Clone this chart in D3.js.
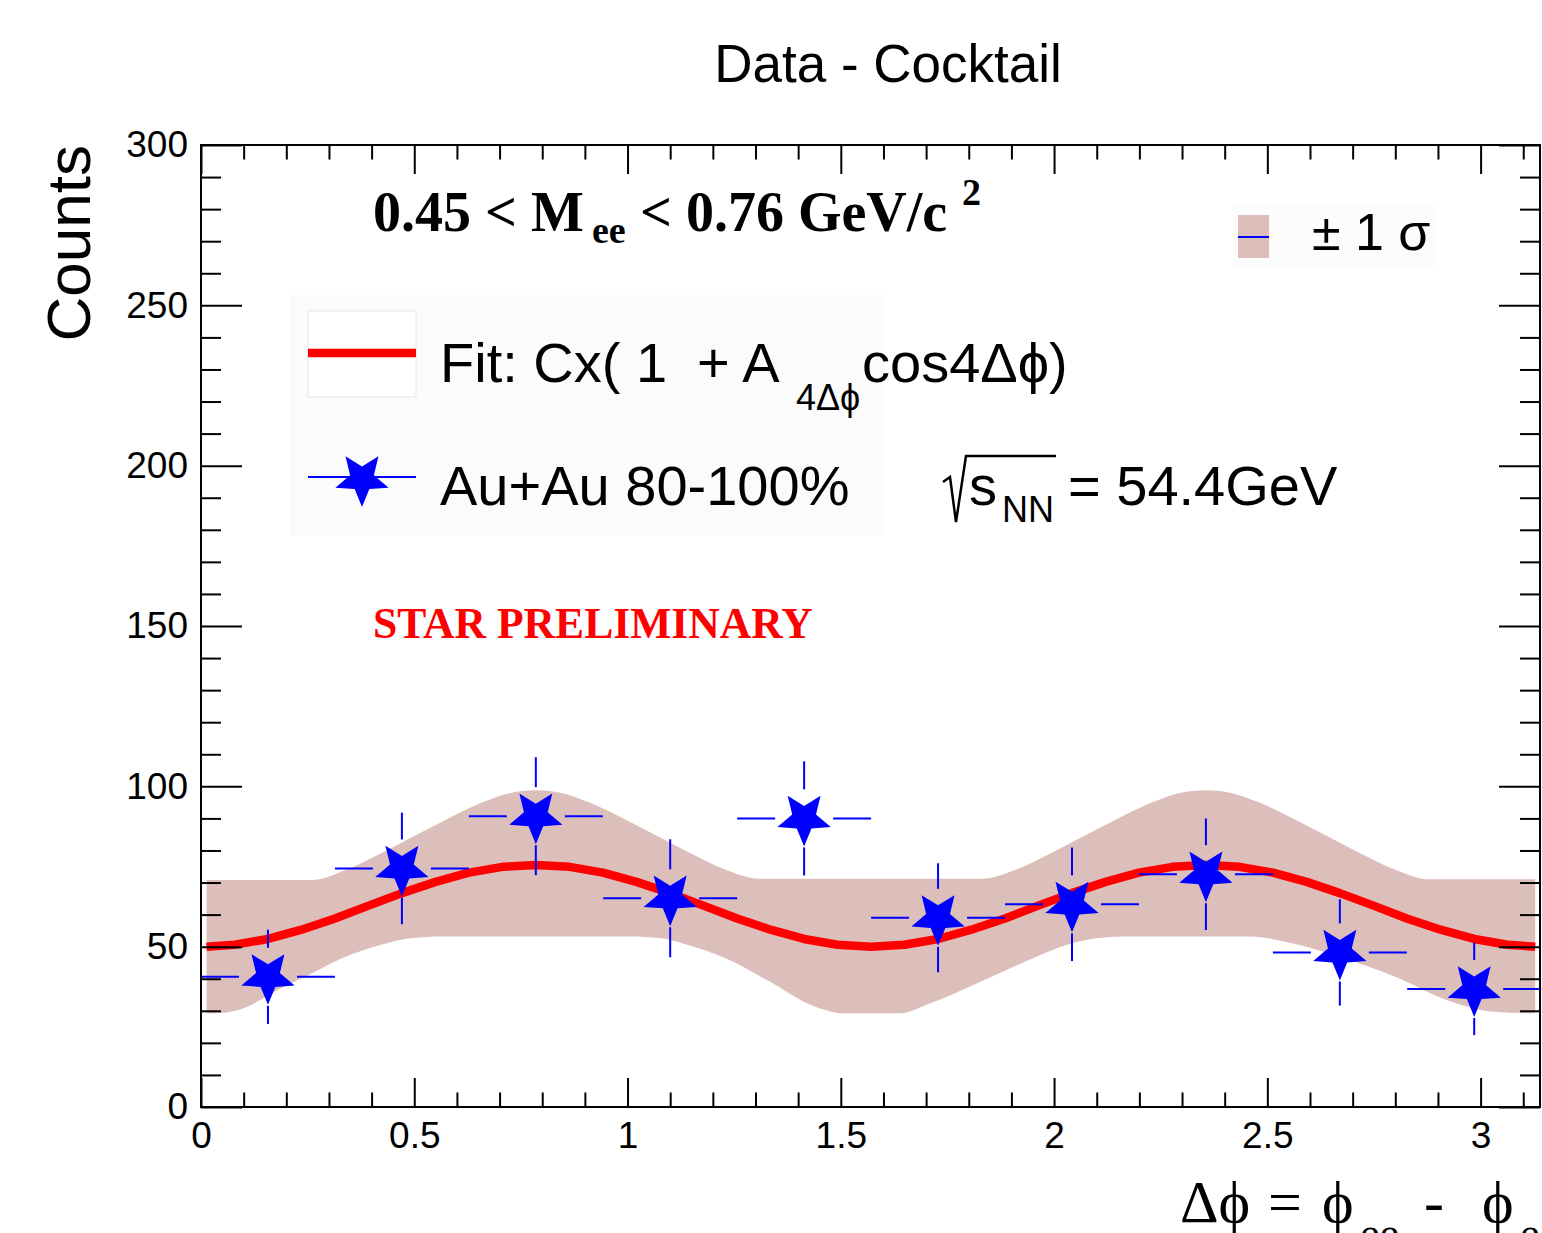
<!DOCTYPE html>
<html>
<head>
<meta charset="utf-8">
<script src="https://cdn.jsdelivr.net/npm/d3@7"></script>
<style>
  html, body { margin: 0; padding: 0; background: #ffffff; }
  svg { display: block; }
</style>
</head>
<body>
<svg id="chart" width="1542" height="1233"></svg>
<script>
// ---------------- data ----------------
const binCenters = [0.157, 0.471, 0.785, 1.100, 1.414, 1.728, 2.042, 2.356, 2.670, 2.985];
const binHalfWidth = 0.157;
const counts = [40.6, 74.4, 90.7, 65.1, 90.0, 59.0, 63.2, 72.6, 48.2, 36.8];
const countErrors = [14.7, 17.4, 18.4, 18.4, 17.8, 17.0, 17.7, 17.4, 16.6, 14.4];

const fitPhi = [0.013, 0.079, 0.157, 0.236, 0.314, 0.393, 0.471, 0.550, 0.628, 0.707,
  0.785, 0.864, 0.942, 1.021, 1.100, 1.178, 1.257, 1.335, 1.414, 1.492,
  1.571, 1.649, 1.728, 1.806, 1.885, 1.963, 2.042, 2.121, 2.199, 2.278,
  2.356, 2.435, 2.513, 2.592, 2.670, 2.749, 2.827, 2.906, 2.985, 3.063, 3.128];
const fitCounts = [50.0, 50.6, 52.4, 55.3, 58.8, 62.8, 66.7, 70.2, 73.1, 74.9,
  75.5, 74.9, 73.1, 70.2, 66.7, 62.8, 58.8, 55.3, 52.4, 50.6,
  50.0, 50.6, 52.4, 55.3, 58.8, 62.8, 66.7, 70.2, 73.1, 74.9,
  75.5, 74.9, 73.1, 70.2, 66.7, 62.8, 58.8, 55.3, 52.4, 50.6, 50.0];

// +-1 sigma band edges
const bandUpperPhi = [0.013, 0.26, 0.34, 0.42, 0.50, 0.58, 0.66, 0.72, 0.785, 0.85, 0.91, 0.99, 1.07, 1.15, 1.23, 1.31,
  1.83, 1.91, 1.99, 2.07, 2.15, 2.23, 2.29, 2.356, 2.42, 2.48, 2.56, 2.64, 2.72, 2.80, 2.88, 3.128];
const bandUpper = [70.8, 70.8, 74.0, 79.0, 84.5, 90.0, 95.0, 97.8, 98.8, 97.8, 95.0, 90.0, 84.5, 79.0, 74.0, 71.2,
  71.2, 74.0, 79.0, 84.5, 90.0, 95.0, 97.8, 98.8, 97.8, 95.0, 90.0, 84.5, 79.0, 74.0, 71.0, 71.0];
const bandLowerPhi = [0.013, 0.06, 0.10, 0.18, 0.26, 0.34, 0.42, 0.49, 0.57, 1.00, 1.08, 1.13, 1.24, 1.34, 1.43, 1.51,
  1.64, 1.70, 1.82, 1.94, 2.04, 2.10, 2.16, 2.46, 2.56, 2.68, 2.80, 2.92, 3.03, 3.128];
const bandLower = [29.2, 29.5, 30.8, 36.5, 41.7, 46.9, 50.5, 52.6, 53.2, 53.2, 52.6, 51.0, 45.8, 38.6, 31.8, 29.2,
  29.2, 31.8, 38.6, 45.8, 51.0, 52.6, 53.2, 53.2, 51.0, 46.4, 40.6, 33.4, 29.7, 29.2];

// axes
const xDomain = [0, Math.PI];
const yDomain = [0, 300];
const xMajorTicks = [0, 0.5, 1, 1.5, 2, 2.5, 3];
const xTickLabels = ["0", "0.5", "1", "1.5", "2", "2.5", "3"];
const xMinorTicks = [0.1,0.2,0.3,0.4,0.6,0.7,0.8,0.9,1.1,1.2,1.3,1.4,1.6,1.7,1.8,1.9,2.1,2.2,2.3,2.4,2.6,2.7,2.8,2.9,3.1];
const yMajorTicks = [0, 50, 100, 150, 200, 250, 300];
const yTickLabels = ["0", "50", "100", "150", "200", "250", "300"];
const yMinorTicks = [10,20,30,40,60,70,80,90,110,120,130,140,160,170,180,190,210,220,230,240,260,270,280,290];

// ---------------- layout ----------------
const frame = { left: 201, right: 1541, top: 145, bottom: 1107 };
const COL_BAND = "#dcbfba", COL_FIT = "#ff0000", COL_DATA = "#0000ff";
const SANS = "'Liberation Sans', Arial, Helvetica, sans-serif";
const SERIF = "'Liberation Serif', 'Times New Roman', Times, serif";

const svg = d3.select("#chart");
const x = d3.scaleLinear().domain(xDomain).range([frame.left, frame.right]);
const y = d3.scaleLinear().domain(yDomain).range([frame.bottom, frame.top]);

// band
const lineMono = d3.line().x(d => x(d[0])).y(d => y(d[1])).curve(d3.curveMonotoneX);
const upperPts = bandUpperPhi.map((p, i) => [p, bandUpper[i]]);
const lowerPts = bandLowerPhi.map((p, i) => [p, bandLower[i]]).reverse();
const up = lineMono(upperPts);
const lo = lineMono(lowerPts);
svg.append("path")
  .attr("d", up + "L" + lo.slice(1) + "Z")
  .attr("fill", COL_BAND).attr("stroke", "none");

// fit line
svg.append("path")
  .datum(fitPhi.map((p, i) => [p, fitCounts[i]]))
  .attr("d", d3.line().x(d => x(d[0])).y(d => y(d[1])))
  .attr("fill", "none").attr("stroke", COL_FIT).attr("stroke-width", 8.5)
  .attr("stroke-linejoin", "round");

// data points with error bars
function starPath(R, r) {
  const pts = [];
  for (let i = 0; i < 10; i++) {
    const a = Math.PI / 2 + i * Math.PI / 5;
    const rad = i % 2 === 0 ? R : r;
    pts.push([(rad * Math.cos(a)).toFixed(2), (rad * Math.sin(a)).toFixed(2)]);
  }
  return "M" + pts.map(p => p.join(",")).join("L") + "Z";
}
const STAR = starPath(28, 12.5);
const GAP = 29;
const pts = binCenters.map((c, i) => ({ c, v: counts[i], e: countErrors[i] }));
const g = svg.append("g");
pts.forEach(d => {
  const cx = x(d.c), cy = y(d.v);
  const xl = x(d.c - binHalfWidth), xr = x(d.c + binHalfWidth);
  const yt = y(d.v + d.e), yb = y(d.v - d.e);
  const segs = [
    [xl, cy, cx - GAP, cy], [cx + GAP, cy, xr, cy],
    [cx, yt, cx, cy - GAP], [cx, cy + GAP, cx, yb]
  ];
  segs.forEach(s => {
    if ((s[2] - s[0]) > 0 || (s[3] - s[1]) > 0) {
      g.append("line").attr("x1", s[0]).attr("y1", s[1]).attr("x2", s[2]).attr("y2", s[3])
        .attr("stroke", COL_DATA).attr("stroke-width", 2);
    }
  });
  g.append("path").attr("d", STAR).attr("transform", `translate(${cx},${cy})`).attr("fill", COL_DATA);
});

// ---------------- axes ----------------
const axG = svg.append("g").attr("font-family", SANS);
function styleAxis(sel) {
  sel.select(".domain").remove();
  sel.selectAll(".tick line").attr("stroke", "#000").attr("stroke-width", 2);
  sel.selectAll(".tick text").attr("fill", "#000").attr("font-size", 37).attr("font-family", SANS);
}
// bottom
axG.append("g").attr("transform", `translate(0,${frame.bottom})`)
  .call(d3.axisBottom(x).tickValues(xMajorTicks).tickFormat((d, i) => xTickLabels[i]).tickSizeInner(-29).tickSizeOuter(0).tickPadding(15))
  .call(styleAxis);
axG.append("g").attr("transform", `translate(0,${frame.bottom})`)
  .call(d3.axisBottom(x).tickValues(xMinorTicks).tickFormat("").tickSizeInner(-14.5).tickSizeOuter(0))
  .call(styleAxis);
// top
axG.append("g").attr("transform", `translate(0,${frame.top})`)
  .call(d3.axisTop(x).tickValues(xMajorTicks).tickFormat("").tickSizeInner(-29).tickSizeOuter(0))
  .call(styleAxis);
axG.append("g").attr("transform", `translate(0,${frame.top})`)
  .call(d3.axisTop(x).tickValues(xMinorTicks).tickFormat("").tickSizeInner(-14.5).tickSizeOuter(0))
  .call(styleAxis);
// left
axG.append("g").attr("transform", `translate(${frame.left},0)`)
  .call(d3.axisLeft(y).tickValues(yMajorTicks).tickFormat((d, i) => yTickLabels[i]).tickSizeInner(-41).tickSizeOuter(0).tickPadding(13))
  .call(styleAxis);
axG.append("g").attr("transform", `translate(${frame.left},0)`)
  .call(d3.axisLeft(y).tickValues(yMinorTicks).tickFormat("").tickSizeInner(-20).tickSizeOuter(0))
  .call(styleAxis);
// right
axG.append("g").attr("transform", `translate(${frame.right - 1},0)`)
  .call(d3.axisRight(y).tickValues(yMajorTicks).tickFormat("").tickSizeInner(-41).tickSizeOuter(0))
  .call(styleAxis);
axG.append("g").attr("transform", `translate(${frame.right - 1},0)`)
  .call(d3.axisRight(y).tickValues(yMinorTicks).tickFormat("").tickSizeInner(-20).tickSizeOuter(0))
  .call(styleAxis);
// frame
svg.append("rect")
  .attr("x", frame.left).attr("y", frame.top)
  .attr("width", frame.right - 1 - frame.left).attr("height", frame.bottom - frame.top)
  .attr("fill", "none").attr("stroke", "#000").attr("stroke-width", 2);

// ---------------- texts ----------------
svg.append("text").attr("x", 888).attr("y", 82).attr("text-anchor", "middle")
  .attr("font-family", SANS).attr("font-size", 53).text("Data - Cocktail");

svg.append("text").attr("transform", "translate(90,145) rotate(-90)").attr("text-anchor", "end")
  .attr("font-family", SANS).attr("font-size", 62).text("Counts");

// x axis title (partly cut off by the canvas, as in the original)
const xt = svg.append("g").attr("font-family", SERIF).attr("fill", "#000");
xt.append("text").attr("x", 1180).attr("y", 1222).attr("font-size", 60).text("\u0394\u03d5");
xt.append("text").attr("x", 1268).attr("y", 1222).attr("font-size", 60).text("=");
xt.append("text").attr("x", 1322).attr("y", 1222).attr("font-size", 60).text("\u03d5");
xt.append("text").attr("x", 1360).attr("y", 1248).attr("font-size", 44).text("ee");
xt.append("text").attr("x", 1424).attr("y", 1222).attr("font-size", 60).text("-");
xt.append("text").attr("x", 1482).attr("y", 1222).attr("font-size", 60).text("\u03d5");
xt.append("text").attr("x", 1520).attr("y", 1248).attr("font-size", 44).text("e");

// mass range label
const ml = svg.append("g").attr("font-family", SERIF).attr("font-weight", "bold").attr("fill", "#000");
ml.append("text").attr("x", 373).attr("y", 231).attr("font-size", 56).text("0.45 < M");
ml.append("text").attr("x", 592).attr("y", 243).attr("font-size", 38).text("ee");
ml.append("text").attr("x", 640).attr("y", 231).attr("font-size", 56).text("< 0.76 GeV/c");
ml.append("text").attr("x", 962).attr("y", 205).attr("font-size", 38).text("2");

// STAR PRELIMINARY
svg.append("text").attr("x", 373).attr("y", 638).attr("font-family", SERIF).attr("font-weight", "bold")
  .attr("font-size", 43.6).attr("fill", "#ff0000").text("STAR PRELIMINARY");

// main legend
svg.append("rect").attr("x", 290).attr("y", 295).attr("width", 595).attr("height", 240).attr("fill", "#fbfbfb");
svg.append("rect").attr("x", 308).attr("y", 311).attr("width", 108).attr("height", 86)
  .attr("fill", "#ffffff").attr("stroke", "#eeeeee").attr("stroke-width", 1.5);
svg.append("line").attr("x1", 308).attr("x2", 416).attr("y1", 353).attr("y2", 353)
  .attr("stroke", COL_FIT).attr("stroke-width", 8.5);
svg.append("line").attr("x1", 308).attr("x2", 416).attr("y1", 477).attr("y2", 477)
  .attr("stroke", COL_DATA).attr("stroke-width", 2);
svg.append("path").attr("d", STAR).attr("transform", "translate(362,479)").attr("fill", COL_DATA);

const lg = svg.append("g").attr("font-family", SANS).attr("fill", "#000");
lg.append("text").attr("x", 440).attr("y", 382).attr("font-size", 56).text("Fit: Cx( 1");
lg.append("text").attr("x", 697).attr("y", 382).attr("font-size", 56).text("+ A");
lg.append("text").attr("x", 796).attr("y", 410).attr("font-size", 36).text("4\u0394\u03d5");
lg.append("text").attr("x", 862).attr("y", 382).attr("font-size", 56).text("cos4\u0394\u03d5)");
lg.append("text").attr("x", 440).attr("y", 505).attr("font-size", 56).text("Au+Au 80-100%");

// sqrt(s_NN) = 54.4GeV
svg.append("path").attr("d", "M943,482 L950,477 L956,522 L966,456 L1056,456")
  .attr("fill", "none").attr("stroke", "#000").attr("stroke-width", 2.5).attr("stroke-linejoin", "miter");
lg.append("text").attr("x", 969).attr("y", 505).attr("font-size", 56).text("s");
lg.append("text").attr("x", 1002).attr("y", 522).attr("font-size", 36).text("NN");
lg.append("text").attr("x", 1068).attr("y", 505).attr("font-size", 56).text("= 54.4GeV");

// sigma legend
svg.append("rect").attr("x", 1232).attr("y", 203).attr("width", 205).attr("height", 64).attr("fill", "#fcfcfc");
svg.append("rect").attr("x", 1238).attr("y", 215).attr("width", 31).attr("height", 43).attr("fill", COL_BAND);
svg.append("line").attr("x1", 1238).attr("x2", 1269).attr("y1", 237).attr("y2", 237)
  .attr("stroke", COL_DATA).attr("stroke-width", 2);
svg.append("text").attr("x", 1312).attr("y", 250).attr("font-family", SANS).attr("font-size", 52).text("\u00b1 1 \u03c3");
</script>
</body>
</html>
